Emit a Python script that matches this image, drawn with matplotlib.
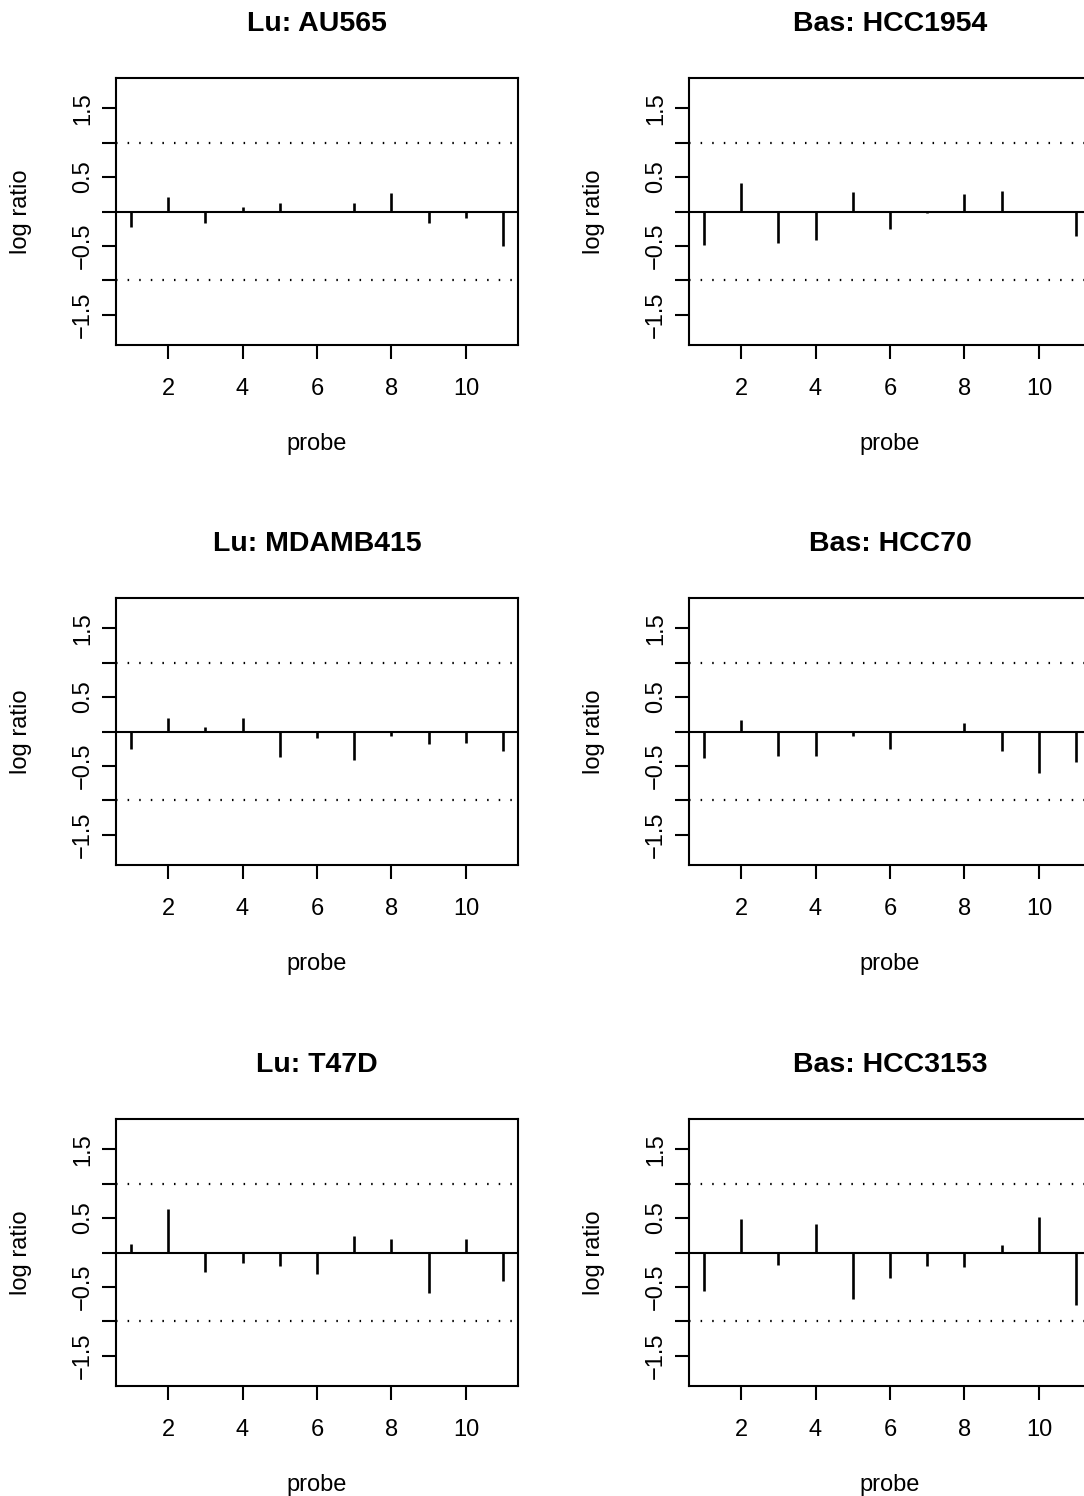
import matplotlib
matplotlib.use('Agg')
import matplotlib.pyplot as plt

plt.rcParams['font.family'] = ['Liberation Sans', 'DejaVu Sans']
plt.rcParams['lines.scale_dashes'] = False

# probe-level log ratios
probes = list(range(1, 12))
titles = ['Lu: AU565', 'Bas: HCC1954',
          'Lu: MDAMB415', 'Bas: HCC70',
          'Lu: T47D', 'Bas: HCC3153']
au565 = [-0.23, 0.21, -0.16, 0.06, 0.13, -0.01, 0.12, 0.27, -0.16, -0.09, -0.50]
hcc1954 = [-0.48, 0.42, -0.46, -0.41, 0.29, -0.26, -0.02, 0.26, 0.30, 0.0, -0.35]
mdamb415 = [-0.25, 0.20, 0.07, 0.20, -0.37, -0.09, -0.41, -0.06, -0.18, -0.16, -0.28]
hcc70 = [-0.38, 0.16, -0.36, -0.36, -0.07, -0.26, 0.01, 0.12, -0.29, -0.61, -0.45]
t47d = [0.13, 0.63, -0.28, -0.15, -0.19, -0.31, 0.24, 0.19, -0.59, 0.20, -0.42]
hcc3153 = [-0.56, 0.48, -0.18, 0.42, -0.68, -0.37, -0.20, -0.21, 0.11, 0.51, -0.76]
series = [au565, hcc1954, mdamb415, hcc70, t47d, hcc3153]

W, H = 1084, 1496
fig = plt.figure(figsize=(W / 100, H / 100), dpi=100)

col_left = [116, 689]
row_top = [78, 598, 1119]
bw, bh = 402, 267

for i, (title, vals) in enumerate(zip(titles, series)):
    r, c = divmod(i, 2)
    x0 = col_left[c]
    y0 = row_top[r]
    ax = fig.add_axes([x0 / W, 1 - (y0 + bh) / H, bw / W, bh / H])
    ax.vlines(probes, 0, vals, color='black', lw=1.9)
    ax.axhline(0, color='black', lw=1.5)
    for h in (1, -1):
        ax.axhline(h, color='black', lw=1.6, linestyle=(0, (1.1, 7.25)))
    ax.set_xlim(0.6, 11.4)
    ax.set_ylim(-1.94, 1.94)
    ax.set_xticks([2, 4, 6, 8, 10])
    ax.set_xticklabels(['2', '4', '6', '8', '10'], fontsize=17)
    yt = [-1.5, -1, -0.5, 0, 0.5, 1, 1.5]
    ax.set_yticks(yt)
    ax.set_yticklabels(['\u22121.5', '', '\u22120.5', '', '0.5', '', '1.5'],
                       rotation=90, va='center', fontsize=17)
    ax.tick_params(axis='x', length=10, width=1.5, pad=14)
    ax.tick_params(axis='y', length=10, width=1.5, pad=6)
    for s in ax.spines.values():
        s.set_linewidth(1.5)
    ax.text(0.5, 1 + 54 / bh, title, transform=ax.transAxes, ha='center',
            va='center', fontsize=20.5, fontweight='bold')
    ax.text(0.5, -99 / bh, 'probe', transform=ax.transAxes, ha='center',
            va='center', fontsize=17)
    ax.text(-95 / bw, 0.5, 'log ratio', transform=ax.transAxes, ha='center',
            va='center', rotation=90, fontsize=17)

fig.savefig('out.png', dpi=100)
